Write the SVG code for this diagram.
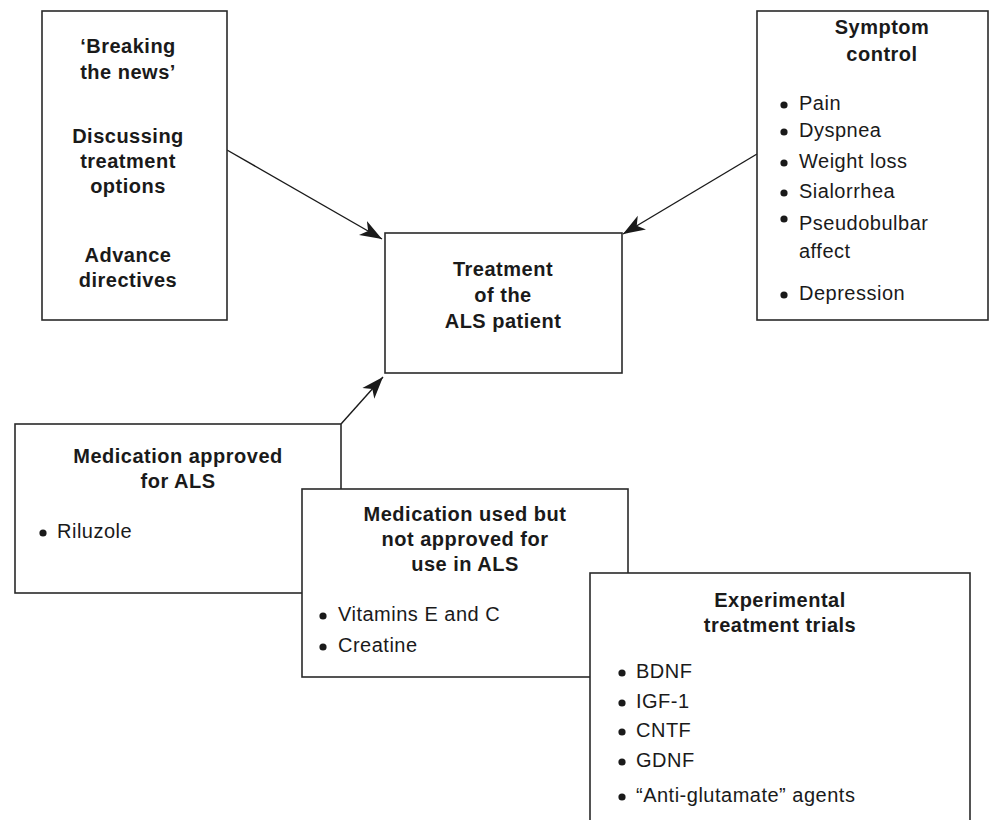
<svg xmlns="http://www.w3.org/2000/svg" width="992" height="820" viewBox="0 0 992 820">
<defs>
<style>
.box{fill:#fff;stroke:#2a2a2a;stroke-width:1.6}
.t{font-family:"Liberation Sans",Arial,sans-serif;font-size:20px;fill:#1a1a1a;letter-spacing:0.5px}
.b{font-weight:bold;text-anchor:middle}
.edge{stroke:#1a1a1a;stroke-width:1.4;fill:none;marker-end:url(#ah)}
.dot{fill:#1a1a1a}
</style>
<marker id="ah" markerUnits="userSpaceOnUse" markerWidth="26" markerHeight="18" refX="22" refY="8" orient="auto" viewBox="0 0 26 16">
<path d="M0,0 L22,8 L0,16 L6,8 Z" fill="#1a1a1a"/>
</marker>
</defs>
<rect width="992" height="820" fill="#fff"/>
<g id="connectors">
<line class="edge" x1="227" y1="150" x2="382" y2="239"/>
<line class="edge" x1="757" y1="154" x2="623" y2="234"/>
<line class="edge" x1="341" y1="424" x2="383" y2="377"/>
</g>
<g id="communication">
<rect class="box" x="42" y="11" width="185" height="309"/>
<text class="t b" x="128" y="53">‘Breaking</text>
<text class="t b" x="128" y="79">the news’</text>
<text class="t b" x="128" y="143">Discussing</text>
<text class="t b" x="128" y="168">treatment</text>
<text class="t b" x="128" y="193">options</text>
<text class="t b" x="128" y="262">Advance</text>
<text class="t b" x="128" y="287">directives</text>
</g>
<g id="symptom">
<rect class="box" x="757" y="11" width="231" height="309"/>
<text class="t b" x="882" y="34">Symptom</text>
<text class="t b" x="882" y="61">control</text>
<circle class="dot" cx="784" cy="105" r="3.6"/><text class="t" x="799" y="110">Pain</text>
<circle class="dot" cx="784" cy="132" r="3.6"/><text class="t" x="799" y="137">Dyspnea</text>
<circle class="dot" cx="784" cy="163" r="3.6"/><text class="t" x="799" y="168">Weight loss</text>
<circle class="dot" cx="784" cy="193" r="3.6"/><text class="t" x="799" y="198">Sialorrhea</text>
<circle class="dot" cx="784" cy="219" r="3.6"/><text class="t" x="799" y="230">Pseudobulbar</text>
<text class="t" x="799" y="258">affect</text>
<circle class="dot" cx="784" cy="295" r="3.6"/><text class="t" x="799" y="300">Depression</text>
</g>
<g id="treatment">
<rect class="box" x="385" y="233" width="237" height="140"/>
<text class="t b" x="503" y="276">Treatment</text>
<text class="t b" x="503" y="302">of the</text>
<text class="t b" x="503" y="328">ALS patient</text>
</g>
<g id="approved">
<rect class="box" x="15" y="424" width="326" height="169"/>
<text class="t b" x="178" y="463">Medication approved</text>
<text class="t b" x="178" y="488">for ALS</text>
<circle class="dot" cx="43" cy="533" r="3.6"/><text class="t" x="57" y="538">Riluzole</text>
</g>
<g id="offlabel">
<rect class="box" x="302" y="489" width="326" height="188"/>
<text class="t b" x="465" y="521">Medication used but</text>
<text class="t b" x="465" y="546">not approved for</text>
<text class="t b" x="465" y="571">use in ALS</text>
<circle class="dot" cx="323" cy="616" r="3.6"/><text class="t" x="338" y="621">Vitamins E and C</text>
<circle class="dot" cx="323" cy="647" r="3.6"/><text class="t" x="338" y="652">Creatine</text>
</g>
<g id="experimental">
<rect class="box" x="590" y="573" width="380" height="260"/>
<text class="t b" x="780" y="607">Experimental</text>
<text class="t b" x="780" y="632">treatment trials</text>
<circle class="dot" cx="622" cy="673" r="3.6"/><text class="t" x="636" y="678">BDNF</text>
<circle class="dot" cx="622" cy="703" r="3.6"/><text class="t" x="636" y="708">IGF-1</text>
<circle class="dot" cx="622" cy="732" r="3.6"/><text class="t" x="636" y="737">CNTF</text>
<circle class="dot" cx="622" cy="762" r="3.6"/><text class="t" x="636" y="767">GDNF</text>
<circle class="dot" cx="622" cy="797" r="3.6"/><text class="t" x="636" y="802">“Anti-glutamate” agents</text>
</g>
</svg>
